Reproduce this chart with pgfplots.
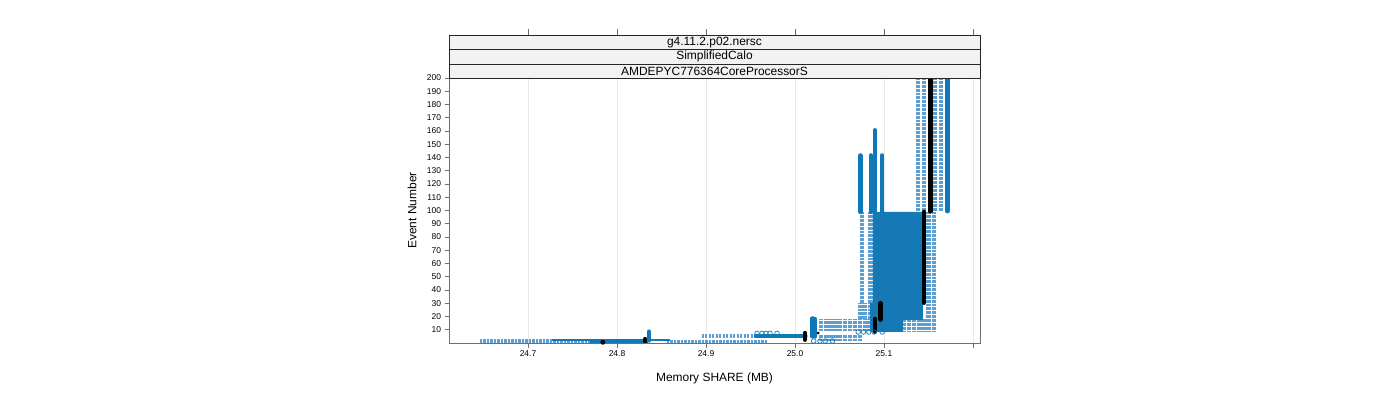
\documentclass[border=0pt]{standalone}
\usepackage{fontspec}
\setmainfont{Liberation Sans}
\usepackage{pgfplots}
\pgfplotsset{compat=1.18}
\definecolor{cblue}{HTML}{0F78B8}
\definecolor{dblue}{HTML}{1579B6}
\definecolor{lblue}{HTML}{5C9FD0}
\definecolor{axgray}{HTML}{707070}
\definecolor{grdgray}{HTML}{E8E8E8}
\definecolor{stripfill}{HTML}{F2F2F2}
\tikzset{
 scol/.style={cblue, line width=4.6bp, line cap=round},
 lcol/.style={lblue, line width=4.2bp, dash pattern=on 0.9bp off 0.45bp},
 hband/.style={lblue, line width=3.8bp, dash pattern=on 2.4bp off 1.1bp},
 blk/.style={black, line width=4.8bp, line cap=round},
 dense/.style={draw=dblue, line width=0.5bp, fill=dblue},
 ring/.style={only marks, mark=o, mark size=2.3bp, cblue, mark options={line width=0.7bp, solid}},
}
\begin{document}
\begin{tikzpicture}
\path[use as bounding box] (0,0) rectangle (1400bp,400bp);
\begin{axis}[name=main, at={(449bp,57bp)}, anchor=south west, scale only axis,
 width=531bp, height=265bp,
 xmin=24.6112, xmax=25.2079, ymin=0, ymax=200,
 unbounded coords=jump,
 xtick={24.7,24.8,24.9,25.0,25.1,25.2}, xticklabels={24.7,24.8,24.9,25.0,25.1,{}},
 ytick={10,20,...,200},
 xtick pos=bottom, ytick pos=left, tick align=outside, major tick length=4.5bp,
 tick style={axgray, line width=0.8bp},
 axis line style={axgray, line width=0.8bp},
 xmajorgrids, grid style={grdgray, line width=0.8bp},
 ticklabel style={font=\fontsize{8.5}{8.5}\selectfont, text=black},
 /pgf/number format/assume math mode=true,
 xlabel={Memory SHARE (MB)}, ylabel={Event Number},
 every axis x label/.style={at={(axis description cs:0.5,-0.1321)}, anchor=center, font=\fontsize{12}{12}\selectfont},
 every axis y label/.style={at={(axis description cs:-0.0697,0.5)}, anchor=center, rotate=90, font=\fontsize{12}{12}\selectfont},
]
% light (sparse) column groups
\addplot[lcol] coordinates {
 (25.0290,9) (25.0290,18) (nan,nan) (25.0345,9) (25.0345,18) (nan,nan)
 (25.0400,9) (25.0400,18) (nan,nan) (25.0455,9) (25.0455,18) (nan,nan)
 (25.0510,9) (25.0510,18) (nan,nan) (25.0565,9) (25.0565,18) (nan,nan)
 (25.0620,9) (25.0620,18) (nan,nan) (25.0675,9) (25.0675,18) (nan,nan)
 (25.0730,9) (25.0730,18) (nan,nan) (25.0785,9) (25.0785,18) (nan,nan)
 (25.0825,9) (25.0825,18)};
\addplot[lcol] coordinates {
 (25.0290,1.5) (25.0290,6) (nan,nan) (25.0345,1.5) (25.0345,6) (nan,nan)
 (25.0400,1.5) (25.0400,6) (nan,nan) (25.0455,1.5) (25.0455,6) (nan,nan)
 (25.0510,1.5) (25.0510,6) (nan,nan) (25.0565,1.5) (25.0565,6) (nan,nan)
 (25.0620,1.5) (25.0620,6) (nan,nan) (25.0675,1.5) (25.0675,6) (nan,nan)
 (25.0730,1.5) (25.0730,6)};
\addplot[lcol] coordinates {
 (25.0735,18) (25.0735,30) (nan,nan) (25.0790,18) (25.0790,30) (nan,nan)
 (25.0845,18) (25.0845,30)};
\addplot[lcol] coordinates {
 (25.1225,8.5) (25.1225,18) (nan,nan) (25.1280,8.5) (25.1280,18) (nan,nan)
 (25.1335,8.5) (25.1335,18) (nan,nan) (25.1390,8.5) (25.1390,18) (nan,nan)
 (25.1445,8.5) (25.1445,18)};
\addplot[lcol] coordinates {
 (25.0753,30) (25.0753,99) (nan,nan) (25.0848,30) (25.0848,99) (nan,nan)
 (25.1500,8.5) (25.1500,99) (nan,nan) (25.1565,8.5) (25.1565,99) (nan,nan)
 (25.1385,99.5) (25.1385,200) (nan,nan) (25.1452,99.5) (25.1452,200) (nan,nan)
 (25.1576,99.5) (25.1576,200) (nan,nan) (25.1640,99.5) (25.1640,200)};
% dense block
\addplot[dense] coordinates {(25.0843,8.5) (25.1202,8.5) (25.1202,18) (25.1427,18) (25.1427,99) (25.0876,99) (25.0876,30) (25.0843,30)} -- cycle;
% horizontal bands near the bottom
\addplot[hband] coordinates {(24.646,1.3) (24.785,1.3)};
\addplot[hband] coordinates {(24.856,1.0) (24.970,1.0)};
\addplot[hband] coordinates {(24.895,5) (24.970,5)};
\addplot[cblue, line width=2.2bp] coordinates {(24.727,2) (24.860,2)};
\addplot[cblue, line width=3.5bp] coordinates {(24.770,1.3) (24.835,1.3)};
\addplot[cblue, line width=4bp, line cap=round] coordinates {(24.956,5) (25.012,5)};
% solid columns
\addplot[scol] coordinates {(24.836,2) (24.836,8.5)};
\addplot[scol] coordinates {(25.0195,5) (25.0195,18.5)};
\addplot[scol] coordinates {(25.0225,5) (25.0225,18)};
\addplot[scol] coordinates {(25.0736,99) (25.0736,141.5)};
\addplot[scol] coordinates {(25.0852,99) (25.0852,141.5)};
\addplot[scol] coordinates {(25.0897,99) (25.0897,160.5)};
\addplot[scol] coordinates {(25.0978,99) (25.0978,141.5)};
\addplot[scol] coordinates {(25.1713,99.5) (25.1713,205)};
% open circles
\addplot[ring] coordinates {(24.9573,7.3) (24.9629,7.3) (24.9674,7.3) (24.9719,7.3) (24.9798,7.3)};
\addplot[ring] coordinates {(25.021,1.5) (25.028,1.5) (25.034,1.5) (25.042,1.5)};
\addplot[ring] coordinates {(25.071,8.3) (25.077,8.3) (25.083,8.3) (25.089,8.3) (25.098,8.3)};
% black series
\addplot[blk] coordinates {(25.1519,99.5) (25.1519,205)};
\addplot[blk] coordinates {(25.1449,30.5) (25.1449,98.8)};
\addplot[blk] coordinates {(25.0961,17.8) (25.0961,30)};
\addplot[blk] coordinates {(25.0899,8.7) (25.0899,18)};
\addplot[blk, line width=4.5bp] coordinates {(25.0112,2.5) (25.0112,7.5)};
\addplot[blk, line width=4.2bp] coordinates {(24.8315,1.2) (24.8315,3)};
\addplot[only marks, mark=*, mark size=2.2bp, black] coordinates {(24.784,0.6)};
\addplot[only marks, mark=*, mark size=1.2bp, black] coordinates {(25.026,7.5)};
\end{axis}
% strips
\draw[fill=stripfill, draw=black!85, line width=0.8bp] (449bp,321.7bp) rectangle (980bp,336bp);
\draw[fill=stripfill, draw=black!85, line width=0.8bp] (449bp,336bp) rectangle (980bp,350.7bp);
\draw[fill=stripfill, draw=black!85, line width=0.8bp] (449bp,350.7bp) rectangle (980bp,365bp);
\node[font=\fontsize{12}{12}\selectfont, inner sep=0pt] at (714.5bp,328.85bp) {AMDEPYC776364CoreProcessorS};
\node[font=\fontsize{12}{12}\selectfont, inner sep=0pt] at (714.5bp,343.35bp) {SimplifiedCalo};
\node[font=\fontsize{12}{12}\selectfont, inner sep=0pt] at (714.5bp,357.85bp) {g4.11.2.p02.nersc};
\foreach \tx in {528,617,706,795,884,973} {
  \draw[axgray, line width=0.8bp] (\tx bp,365bp) -- (\tx bp,371bp);
}
\end{tikzpicture}
\end{document}
